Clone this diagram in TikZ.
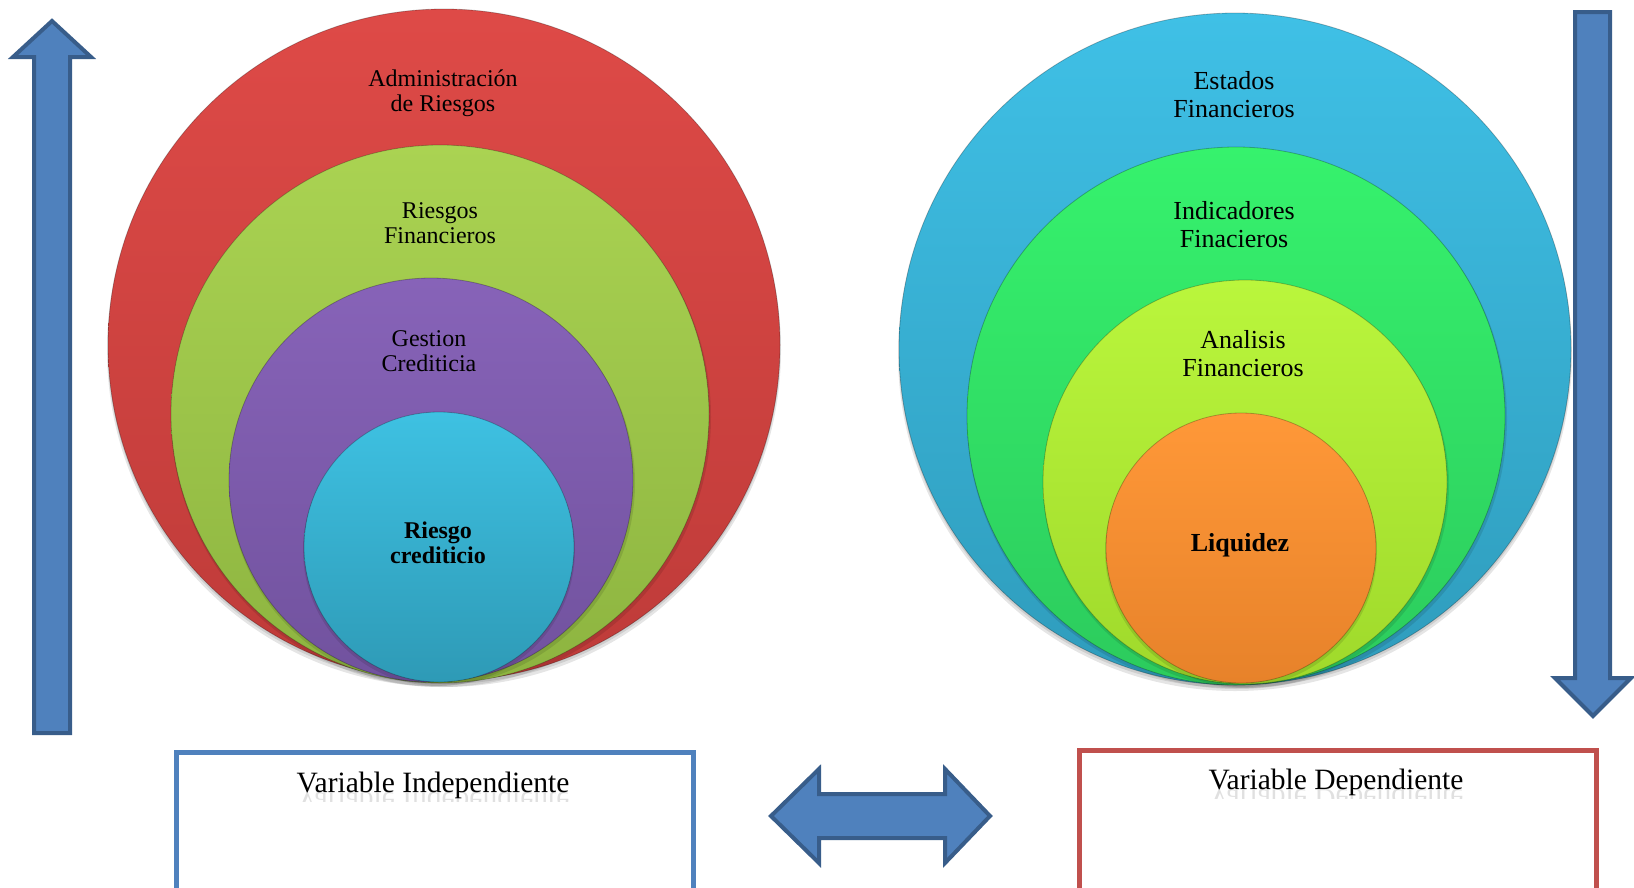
\documentclass[tikz,border=0pt]{standalone}
\usepackage{fontspec}
\setmainfont{Liberation Serif}
\definecolor{redT}{HTML}{DE4A47}
\definecolor{redB}{HTML}{BE3B39}
\definecolor{grnT}{HTML}{AAD352}
\definecolor{grnB}{HTML}{8DB440}
\definecolor{purT}{HTML}{8763B8}
\definecolor{purB}{HTML}{71529E}
\definecolor{cynT}{HTML}{3EC1E2}
\definecolor{cynB}{HTML}{2E9AB6}
\definecolor{bluT}{HTML}{3FC0E6}
\definecolor{bluB}{HTML}{2F9CBC}
\definecolor{lgrT}{HTML}{36F26D}
\definecolor{lgrB}{HTML}{2CCB5D}
\definecolor{ygrT}{HTML}{BAF63C}
\definecolor{ygrB}{HTML}{9FD92B}
\definecolor{orgT}{HTML}{FF9838}
\definecolor{orgB}{HTML}{E7822A}
\definecolor{arrowfill}{HTML}{4F81BD}
\definecolor{arrowedge}{HTML}{385D8A}
\definecolor{boxblue}{HTML}{4F81BD}
\definecolor{boxred}{HTML}{C0504D}
\begin{document}
\begin{tikzpicture}[x=1pt,y=-1pt,
  ring/.style={circle, inner sep=0pt, draw=black, draw opacity=0.25, line width=0.8pt},
  lbl/.style={align=center, font=\fontsize{24}{25}\selectfont, text=black, inner sep=0pt},
  rlbl/.style={align=center, font=\fontsize{26}{28}\selectfont, text=black, inner sep=0pt},
  blockarrow/.style={fill=arrowfill, draw=arrowedge, line width=4pt, line join=miter},
  varbox/.style={line width=4.5pt, fill=white, inner sep=0pt, anchor=north west},
  vartext/.style={font=\fontsize{29.5}{31}\selectfont, inner sep=0pt, anchor=base},
  mirrored/.style={vartext, yscale=-1, transform shape, opacity=0.12},
  shade under/.style={fill=black, opacity=0.10},
]
\useasboundingbox (0,0) rectangle (1634,887);
\clip (0,0) rectangle (1634,887);

% ---- left set of nested circles ----
\fill[shade under] (444,350) circle (337);
\fill[shade under] (444,348) circle (336);
\node[ring, minimum size=672pt, top color=redT, bottom color=redB] (adm) at (444,345) {};
\fill[shade under] (441,417) circle (270);
\node[ring, minimum size=538pt, top color=grnT, bottom color=grnB] (rfin) at (440,414) {};
\fill[shade under] (432,483) circle (203);
\node[ring, minimum size=404pt, top color=purT, bottom color=purB] (gest) at (431,480) {};
\fill[shade under] (439,550) circle (136);
\node[ring, minimum size=270pt, top color=cynT, bottom color=cynB] (rcred) at (439,547) {};

\node[lbl] (admT) at (443,93) {Administración\\de Riesgos};
\node[lbl] (rfinT) at (440,223) {Riesgos\\Financieros};
\node[lbl] (gestT) at (429,351) {Gestion\\Crediticia};
\node[lbl, font=\fontsize{24}{25}\selectfont\bfseries] (rcredT) at (438,543) {Riesgo\\crediticio};

% ---- right set of nested circles ----
\fill[shade under] (1235,354) circle (337);
\fill[shade under] (1235,352) circle (336);
\node[ring, minimum size=672pt, top color=bluT, bottom color=bluB] (est) at (1235,349) {};
\fill[shade under] (1237,419) circle (270);
\node[ring, minimum size=538pt, top color=lgrT, bottom color=lgrB] (ind) at (1236,416) {};
\fill[shade under] (1246,485) circle (203);
\node[ring, minimum size=404pt, top color=ygrT, bottom color=ygrB] (ana) at (1245,482) {};
\fill[shade under] (1241,551) circle (136);
\node[ring, minimum size=270pt, top color=orgT, bottom color=orgB] (liq) at (1241,548) {};

\node[rlbl] (estT) at (1234,95) {Estados\\Financieros};
\node[rlbl] (indT) at (1234,225) {Indicadores\\Finacieros};
\node[rlbl] (anaT) at (1243,354) {Analisis\\Financieros};
\node[rlbl, font=\fontsize{26}{28}\selectfont\bfseries] (liqT) at (1240,545) {Liquidez};

% ---- vertical block arrows ----
\draw[blockarrow] (34,733) -- (34,57) -- (13,57) -- (52,21) -- (91,57)
  -- (70,57) -- (70,733) -- cycle;
\draw[blockarrow] (1575,12) -- (1610,12) -- (1610,678) -- (1631,678)
  -- (1593,716) -- (1555,678) -- (1575,678) -- cycle;

% ---- double-headed arrow between the variables ----
\draw[blockarrow] (771,816) -- (819,769) -- (819,794) -- (945,794) -- (945,769)
  -- (990,816) -- (945,863) -- (945,838) -- (819,838) -- (819,863) -- cycle;

% ---- variable boxes with faint reflected titles ----
\node[varbox, draw=boxblue, minimum width=517pt, minimum height=160pt] (indep) at (174,750) {};
\node[vartext] (indepT) at (433,792) {Variable Independiente};
\begin{scope}
  \clip (250,792) rectangle (620,801);
  \node[mirrored] (indepR) at (433,792) {Variable Independiente};
\end{scope}
\node[varbox, draw=boxred, minimum width=517pt, minimum height=160pt] (dep) at (1077,748) {};
\node[vartext] (depT) at (1336,789) {Variable Dependiente};
\begin{scope}
  \clip (1150,789) rectangle (1520,798);
  \node[mirrored] (depR) at (1336,789) {Variable Dependiente};
\end{scope}
\end{tikzpicture}
\end{document}
